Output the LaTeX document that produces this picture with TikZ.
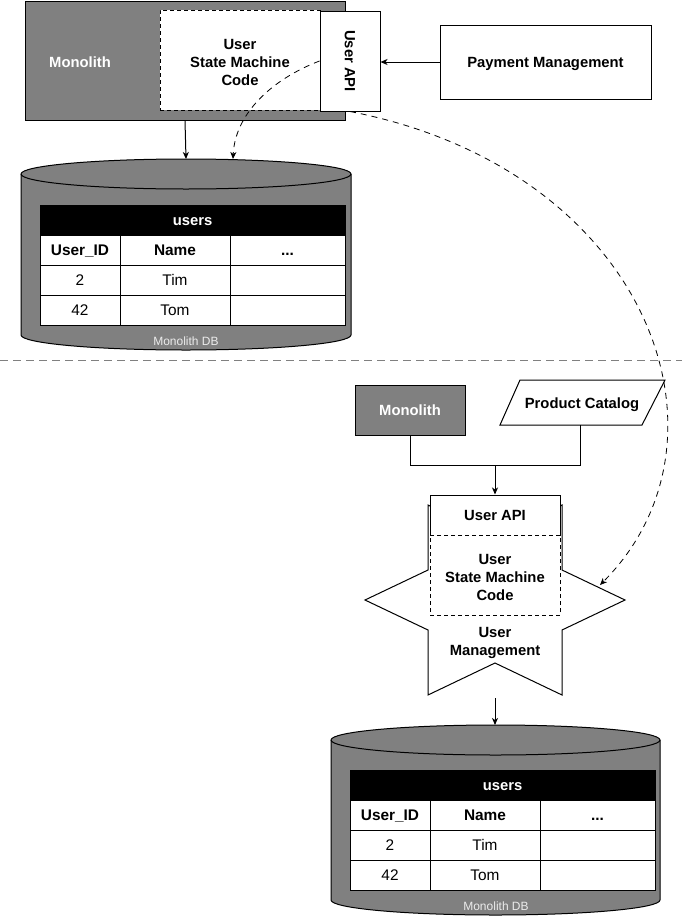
\documentclass[tikz,border=0pt]{standalone}
\usepackage{fontspec}
\setmainfont{Liberation Sans}
\usetikzlibrary{arrows.meta}
\definecolor{boxgray}{RGB}{128,128,128}
\definecolor{sepgray}{RGB}{128,128,128}
\definecolor{dblabel}{RGB}{235,235,235}
\begin{document}
\begin{tikzpicture}[x=1pt,y=-1pt,
  line width=1pt,
  >={Stealth[length=7pt,width=6pt,inset=2pt]},
  bfont/.style={font=\fontsize{14.8}{18}\selectfont\bfseries},
  oneline/.style={text height=13.2pt, text depth=3.1pt},
  box/.style={draw=black, line width=1pt, inner sep=0pt, align=center, bfont},
  graybox/.style={box, fill=boxgray, text=white, oneline},
  whitebox/.style={box, fill=white, oneline},
  dbox/.style={draw=black, line width=1pt, fill=white, dash pattern=on 4pt off 3pt},
  mlabel/.style={bfont, align=center, inner sep=0pt},
  hdr/.style={draw=black, fill=black, text=white, inner sep=0pt, bfont, oneline, minimum height=30pt},
  cell/.style={draw=black, fill=white, inner sep=0pt, minimum height=30pt, oneline, font=\fontsize{15.4}{18}\selectfont},
  hcell/.style={cell, font=\fontsize{15.4}{18}\selectfont\bfseries},
  dblbl/.style={text=dblabel, font=\fontsize{12}{14}\selectfont, inner sep=0pt},
  flow/.style={draw=black, line width=1pt, ->},
  dflow/.style={draw=black, line width=0.8pt, dash pattern=on 6pt off 5pt, ->},
]
\useasboundingbox (0,0) rectangle (682,921);

% ---------------- top part ----------------
\node[graybox, minimum width=320pt, minimum height=119pt] (mono) at (185,60.5) {};
\node[bfont, oneline, text=white] (monolbl) at (80,62) {Monolith};
\node[dbox, minimum width=160pt, minimum height=100pt] (sm1) at (240,60) {};
\node[mlabel] (sm1t) at (240,62.5) {User\\State Machine\\Code};
\node[whitebox, minimum width=60pt, minimum height=100pt] (uapi) at (350,61) {};
\node[bfont, oneline, rotate=-90] (uapilbl) at (350,61) {User API};
\node[whitebox, minimum width=211pt, minimum height=74pt] (pay) at (545.5,62) {Payment Management};

% top cylinder
\draw[fill=boxgray] (21,174) -- (21,335)
  arc[start angle=180, end angle=0, x radius=165, y radius=15]
  -- (351,174)
  arc[start angle=0, end angle=-180, x radius=165, y radius=15] -- cycle;
\draw (21,174) arc[start angle=180, end angle=0, x radius=165, y radius=15];
\coordinate (db1top) at (186,159);
\coordinate (db1in) at (233,159);

% top table
\node[hdr, minimum width=305pt] (th) at (192.5,220) {users};
\node[hcell, minimum width=80pt] (t11) at (80,250) {User\_ID};
\node[hcell, minimum width=110pt] (t12) at (175,250) {Name};
\node[hcell, minimum width=115pt] (t13) at (287.5,250) {...};
\node[cell, minimum width=80pt] (t21) at (80,280) {2};
\node[cell, minimum width=110pt] (t22) at (175,280) {Tim};
\node[cell, minimum width=115pt] (t23) at (287.5,280) {};
\node[cell, minimum width=80pt] (t31) at (80,310) {42};
\node[cell, minimum width=110pt] (t32) at (175,310) {Tom};
\node[cell, minimum width=115pt] (t33) at (287.5,310) {};
\node[dblbl] (db1lbl) at (186,341) {Monolith DB};

% top connectors
\draw[flow] (pay.west) -- (pay.west -| uapi.east);
\draw[flow] (mono.south) -- (db1top);
\draw[dflow] (uapi.west) .. controls (270,80) and (235,115) .. (db1in);

% separator
\coordinate (sepL) at (0,360);
\coordinate (sepR) at (682,360);
\draw[sepgray, dash pattern=on 8pt off 5pt] (sepL) -- (sepR);

% ---------------- bottom part ----------------
\node[graybox, minimum width=110pt, minimum height=50pt] (mono2) at (410,410) {Monolith};
\draw[fill=white] (520,380) -- (665,380) -- (642,425) -- (500,425) -- cycle;
\node[bfont, oneline] (pc) at (582,403) {Product Catalog};
\coordinate (pcb) at (580,425);
\coordinate (join) at (495,465);

% star
\draw[fill=white] (428,505) -- (428,570) -- (365,600) -- (428,630) -- (428,695)
  -- (495,663) -- (562,695) -- (562,630) -- (625,600) -- (562,570)
  -- (562,505) -- (495,537) -- cycle;
\node[mlabel] (um) at (495,643) {User\\Management};
\coordinate (starR) at (600,585);

\node[whitebox, minimum width=130pt, minimum height=40pt] (uapi2) at (495,515) {User API};
\node[dbox, minimum width=130pt, minimum height=80pt] (sm2) at (495,575) {};
\node[mlabel] (sm2t) at (495,577.5) {User\\State Machine\\Code};

\draw (mono2.south) |- (join);
\draw (pcb) |- (join);
\draw[flow] (join) -- (uapi2.north);

\draw[dflow] (uapi.south) .. controls (650,170) and (745,440) .. (starR);

% bottom cylinder
\draw[fill=boxgray] (331,740) -- (331,900)
  arc[start angle=180, end angle=0, x radius=164.5, y radius=15]
  -- (660,740)
  arc[start angle=0, end angle=-180, x radius=164.5, y radius=15] -- cycle;
\draw (331,740) arc[start angle=180, end angle=0, x radius=164.5, y radius=15];
\coordinate (db2top) at (495,725);
\coordinate (starB) at (495,698);
\draw[flow] (starB) -- (db2top);

% bottom table
\node[hdr, minimum width=305pt] (bh) at (502.5,785) {users};
\node[hcell, minimum width=80pt] (b11) at (390,815) {User\_ID};
\node[hcell, minimum width=110pt] (b12) at (485,815) {Name};
\node[hcell, minimum width=115pt] (b13) at (597.5,815) {...};
\node[cell, minimum width=80pt] (b21) at (390,845) {2};
\node[cell, minimum width=110pt] (b22) at (485,845) {Tim};
\node[cell, minimum width=115pt] (b23) at (597.5,845) {};
\node[cell, minimum width=80pt] (b31) at (390,875) {42};
\node[cell, minimum width=110pt] (b32) at (485,875) {Tom};
\node[cell, minimum width=115pt] (b33) at (597.5,875) {};
\node[dblbl] (db2lbl) at (496,906) {Monolith DB};
\end{tikzpicture}
\end{document}
